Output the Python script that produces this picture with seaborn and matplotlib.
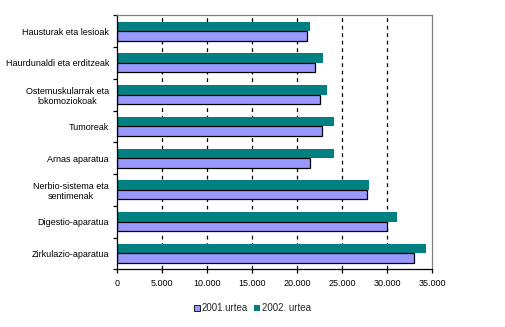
import matplotlib
matplotlib.use("Agg")
import matplotlib.pyplot as plt
from matplotlib.patches import Patch
from matplotlib.ticker import FixedLocator, FuncFormatter
import seaborn as sns
import pandas as pd
import numpy as np

categories = [
    "Hausturak eta lesioak",
    "Haurdunaldi eta erditzeak",
    "Ostemuskularrak eta\nlokomoziokoak",
    "Tumoreak",
    "Arnas aparatua",
    "Nerbio-sistema eta\nsentimenak",
    "Digestio-aparatua",
    "Zirkulazio-aparatua",
]
values_2001 = [21050, 21950, 22500, 22700, 21400, 27700, 29950, 32950]
values_2002 = [21400, 22850, 23300, 24100, 24100, 27950, 31100, 34300]
series = ["2001.urtea", "2002. urtea"]
colors = {"2001.urtea": "#9999FF", "2002. urtea": "#008080"}

df = pd.DataFrame({
    "kategoria": categories * 2,
    "urtea": [series[0]] * len(categories) + [series[1]] * len(categories),
    "balioa": values_2001 + values_2002,
})

sns.set_theme(style="white")
plt.rcParams["font.family"] = ["Liberation Sans", "DejaVu Sans"]

fig = plt.figure(figsize=(5.05, 3.27), dpi=100)
ax = fig.add_axes([0.2323, 0.1765, 0.6238, 0.7767])

hue_order = [series[1], series[0]]
sns.barplot(
    data=df, y="kategoria", x="balioa", hue="urtea",
    hue_order=hue_order, order=categories,
    palette=colors, saturation=1, orient="h", width=0.6, gap=0,
    legend=False, ax=ax,
)

# 2001 bars carry a black outline, 2002 bars are plain
for name, container in zip(hue_order, ax.containers):
    for patch in container:
        if name == series[0]:
            patch.set_edgecolor("black")
            patch.set_linewidth(0.9)
        else:
            patch.set_edgecolor("none")

ax.set_xlim(0, 35000)
ax.set_ylim(len(categories) - 0.5, -0.5)
ax.set_xlabel("")
ax.set_ylabel("")

ax.set_xticks(np.arange(0, 35001, 5000))
ax.xaxis.set_major_formatter(FuncFormatter(lambda v, p: f"{int(v):,}".replace(",", ".")))
for xv in range(5000, 35000, 5000):
    ax.axvline(xv, color="black", linestyle=(0, (3, 3)), linewidth=0.9, zorder=0)

ax.yaxis.set_minor_locator(FixedLocator(np.arange(-0.5, len(categories), 1.0)))
ax.tick_params(axis="y", which="major", length=0, labelsize=6.5, pad=6, colors="black")
ax.tick_params(axis="y", which="minor", length=3, width=0.9, color="black", left=True)
ax.tick_params(axis="x", which="major", length=3, width=0.9, color="black",
               bottom=True, labelsize=6.5, pad=4, labelcolor="black")
for lbl in ax.get_yticklabels():
    lbl.set_multialignment("center")

for side in ["left", "bottom"]:
    ax.spines[side].set_color("black")
    ax.spines[side].set_linewidth(0.9)
for side in ["top", "right"]:
    ax.spines[side].set_color("#808080")
    ax.spines[side].set_linewidth(0.9)

handles = [Patch(facecolor=colors[s], edgecolor="black" if s == series[0] else "none",
                 linewidth=0.6, label=s) for s in series]
fig.legend(handles=handles, loc="center", bbox_to_anchor=(0.5, 0.058), ncol=2,
           frameon=False, fontsize=7, handlelength=0.6, handleheight=0.6,
           handletextpad=0.2, columnspacing=0.6)

fig.savefig("out.png", dpi=100, facecolor="white")
